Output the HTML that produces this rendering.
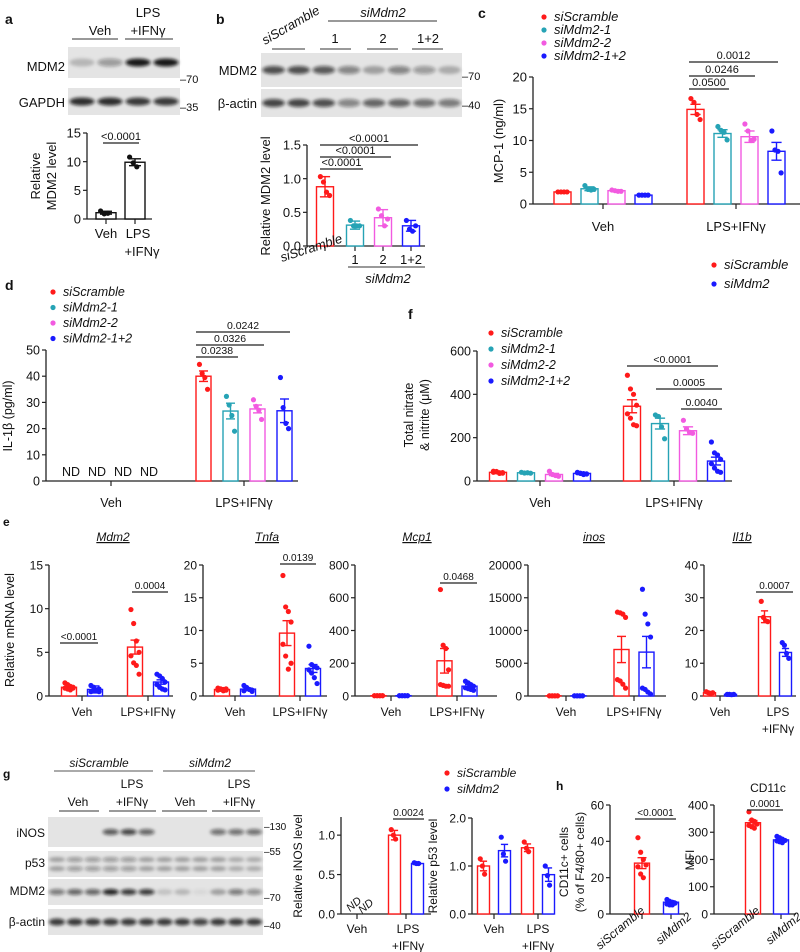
<!DOCTYPE html>
<html><head><meta charset="utf-8"><style>
html,body{margin:0;padding:0;background:#fff}
svg{display:block;font-family:"Liberation Sans",sans-serif}
</style></head><body>
<svg id="fig" width="800" height="952" viewBox="0 0 800 952" xmlns="http://www.w3.org/2000/svg">
<defs><filter id="blur" x="-50%" y="-50%" width="200%" height="200%"><feGaussianBlur stdDeviation="1.6"/></filter></defs>
</svg>
<script>
// ---------- data ----------
const aCats=["Veh","LPS+IFNγ"];
const aVals=[1.1,9.9];const aErr=[0.25,0.6];
const aPts=[[1.4,0.9,1.0],[10.8,9.8,9.1]];
const bCats=["siScramble","1","2","1+2"];
const bVals=[0.88,0.31,0.42,0.30];const bErr=[0.15,0.06,0.12,0.08];
const bPts=[[1.03,0.95,0.8,0.75],[0.38,0.3,0.3,0.3],[0.55,0.45,0.3,0.4],[0.38,0.25,0.22,0.3]];
const series4=["siScramble","siMdm2-1","siMdm2-2","siMdm2-1+2"];
const groups=["Veh","LPS+IFNγ"];
const cVeh=[1.9,2.4,2.1,1.4];const cLps=[14.9,11.1,10.6,8.3];
const cVehErr=[0.1,0.3,0.15,0.1];const cLpsErr=[0.8,0.6,0.9,1.4];
const cVehPts=[[1.9,1.9,1.9,1.9],[2.9,2.3,2.2,2.3],[2.2,2.1,2.0,2.0],[1.4,1.4,1.4,1.4]];
const cLpsPts=[[16.6,16.0,14.1,13.3],[12.2,11.6,11.3,10.1],[12.6,11.5,10.0,10.2],[11.5,8.5,8.3,4.9]];
const dLps=[40,26.7,27.5,26.8];const dErr=[2,3,1.5,4.5];
const dPts=[[44.5,41,39.5,35],[32.3,29,25,19],[31,28.5,27,23.5],[39.5,28,22,20]];
const fVeh=[40,38,30,35];const fLps=[345,265,232,92];
const fVehErr=[3,2,5,3];const fLpsErr=[30,25,18,18];
const fVehPts=[[45,42,38,36,40,44,35,39],[40,37,38,36],[45,30,25,22],[40,35,30,32,38,36,34,33]];
const fLpsPts=[[488,425,400,350,310,290,260,255],[305,298,250,195],[280,240,225,220],[180,130,120,100,80,60,45,40]];
const eGenes=["Mdm2","Tnfa","Mcp1","inos","Il1b"];
const eMdm2=[[1.0,0.75],[5.6,1.6]];const eMdm2Err=[[0.1,0.4],[0.8,0.25]];
const eMdm2Pts=[[[1.5,1.3,1.1,1,0.9,0.8,0.7,0.9],[1.2,1.0,0.6,0.5,0.5,0.6,0.7,0.8]],[[9.9,8.3,6.3,5.0,4.6,3.8,3.5,2.5],[2.5,2.3,2.0,1.6,1.3,1.0,0.8,0.7]]];
const eTnfa=[[1.0,1.05],[9.6,4.2]];const eTnfaErr=[[0.1,0.15],[1.9,0.6]];
const eTnfaPts=[[[1.2,1.1,1,0.9,0.9,1,0.8,1.1],[1.6,1.3,1,0.9,0.8,1.1,1,0.7]],[[18.4,13.6,12.9,11.3,7.9,6.1,4.1,5.0],[7.6,4.8,4.5,4.3,4.0,3.5,2.8,1.9]]];
const eMcp1=[[2,2],[215,60]];const eMcp1Err=[[0.5,0.5],[75,10]];
const eMcp1Pts=[[[2,2,2,2,2,2,2,2],[2,2,2,2,2,2,2,2]],[[650,310,290,160,70,65,60,60],[90,80,70,60,50,45,40,35]]];
const eInos=[[30,30],[7100,6700]];const eInosErr=[[20,20],[2000,2400]];
const eInosPts=[[[30,30,30,30,30,30,30,30],[30,30,30,30,30,30,30,30]],[[12800,12700,12500,12000,2500,2300,1800,1200],[16300,12500,11000,9000,1200,1000,600,300]]];
const eIl1b=[[1,0.5],[24.2,13.3]];const eIl1bErr=[[0.3,0.1],[1.8,1.2]];
const eIl1bPts=[[[1.3,1,0.8,1],[0.5,0.5,0.4,0.5]],[[28.9,24,23,22.7],[16.3,15.5,13,11.5]]];
const gInos=[[null,null],[1.0,0.64]];const gInosErr=[[0,0],[0.06,0.01]];
const gInosPts=[[[],[]],[[1.07,1.0,0.95],[0.65,0.64,0.64]]];
const gP53=[[1.0,1.32],[1.38,0.82]];const gP53Err=[[0.1,0.13],[0.08,0.14]];
const gP53Pts=[[[1.15,1.0,0.83],[1.6,1.25,1.1]],[[1.5,1.37,1.3],[1.0,0.8,0.6]]];
const hCats=["siScramble","siMdm2"];
const h1Vals=[28,6.5];const h1Err=[3,0.7];
const h1Pts=[[42,34,30,27,26,22,20],[8,7,6.5,6,5.5,5,5]];
const h2Vals=[335,272];const h2Err=[8,4];
const h2Pts=[[375,345,340,330,325,320,315],[285,280,275,270,268,265,262]];

// ---------- helpers ----------
const NS="http://www.w3.org/2000/svg";const svg=document.getElementById('fig');
const RED="#ff1a1a",TEAL="#26a3b5",MAG="#f25ae0",BLUE="#1a1aff";
const C4=[RED,TEAL,MAG,BLUE],C2=[RED,BLUE];
function mk(tag,at){const e=document.createElementNS(NS,tag);for(const k in at)e.setAttribute(k,at[k]);svg.appendChild(e);return e;}
function T(x,y,s,size,o,name){o=o||{};
 const e=mk('text',{x:x,y:y,'font-size':size,'text-anchor':o.a||'start',fill:o.fill||'#111'});
 if(o.i)e.setAttribute('font-style','italic');if(o.b)e.setAttribute('font-weight','bold');
 if(o.rot!==undefined)e.setAttribute('transform','rotate('+o.rot+' '+x+' '+y+')');
 if(o.u)e.setAttribute('text-decoration','underline');
 e.textContent=s;
 
 
 return e;}
function L(x1,y1,x2,y2,col,w,name){const e=mk('line',{x1:x1,y1:y1,x2:x2,y2:y2,stroke:col||'#222','stroke-width':w||1.2});
 
 
 return e;}
function sig(x1,x2,y,s,size){L(x1,y,x2,y,'#222',1.2,'significance-bar');T((x1+x2)/2,y-3,s,size||11,{a:'middle'},'p-value-label');}
function dotLegend(x,y,col,s,size,name){const c=mk('circle',{cx:x,cy:y-4,r:2.6,fill:col});
 
 
 T(x+10,y,s,size||13,{i:true},name||'legend-entry');}
// generic bar chart: vals[g][i]
function chart(c){
 const sy=v=>c.yBot-v/c.vmax*(c.yBot-c.yTop);
 L(c.ax,c.yTop,c.ax,c.yBot,'#222',1.3,c.name+'-y-axis');
 c.ticks.forEach((t,k)=>{L(c.ax-4,sy(t),c.ax,sy(t),'#222',1.2,'y-tick');
  T(c.ax-6,sy(t)+c.fs*0.36,c.tl?c.tl[k]:String(t),c.fs,{a:'end'},'y-tick-label');});
 L(c.ax,c.yBot,c.xEnd,c.yBot,'#222',1.3,c.name+'-x-axis');
 c.groupX.forEach(gx=>L(gx,c.yBot,gx,c.yBot+5,'#222',1.2,'x-tick'));
 c.vals.forEach((row,g)=>{const n=row.length;row.forEach((v,i)=>{
  if(v===null)return;const cx=c.groupX[g]+(i-(n-1)/2)*(c.sp||0);const col=c.col(g,i);
  const r=mk('rect',{x:cx-c.bw/2,y:sy(v),width:c.bw,height:c.yBot-sy(v),fill:'#fff',stroke:col,'stroke-width':1.4});
  
  
  const e=c.err[g][i];
  L(cx,sy(Math.max(0,v-e)),cx,sy(v+e),col,1.4,'error-bar');
  L(cx-c.bw*0.3,sy(v+e),cx+c.bw*0.3,sy(v+e),col,1.4,'error-cap');
  L(cx-c.bw*0.3,sy(Math.max(0,v-e)),cx+c.bw*0.3,sy(Math.max(0,v-e)),col,1.4,'error-cap');
  const P=c.pts[g][i]||[];P.forEach((p,k)=>{const j=((k%4)-1.5)*c.bw*0.18;
   const d=mk('circle',{cx:cx+j,cy:sy(p),r:c.r||2.6,fill:col});
   
   });
 });});
 return sy;}
function blot(x,y,w,h,lanes,ints,bandH,name,double){
 const r=mk('rect',{x:x,y:y,width:w,height:h,fill:'#e4e4e4'});
 
 
 const lw=w/lanes;
 ints.forEach((v,k)=>{if(v<=0)return;const cx=x+lw*(k+0.5);
  const ys=double?[y+h*0.33,y+h*0.68]:[y+h/2];
  ys.forEach(yy=>{const e=mk('ellipse',{cx:cx,cy:yy,rx:lw*0.45,ry:bandH,fill:'#111','fill-opacity':v,filter:'url(#blur)'});
   
   });});}

// ---------- panel a ----------
T(5,24,'a',14,{b:true},'panel-label-a');
T(100,35,'Veh',13,{a:'middle'},'lane-label');T(148,17,'LPS',13,{a:'middle'},'lane-label');T(148,35,'+IFNγ',13,{a:'middle'},'lane-label');
L(72,39,118,39,'#333',1);L(125,39,173,39,'#333',1);
blot(68,47,112,31,4,[0.2,0.35,0.95,0.95],4,'blot-a-mdm2');
blot(68,88,112,27,4,[0.85,0.85,0.8,0.8],4,'blot-a-gapdh');
T(65,71,'MDM2',13,{a:'end'},'blot-label');T(65,107,'GAPDH',13,{a:'end'},'blot-label');
T(180,83,'–70',11,{},'mw-marker');T(180,111,'–35',11,{},'mw-marker');
chart({name:'a',ax:87,yTop:133,yBot:219,vmax:15,ticks:[0,5,10,15],fs:13,xEnd:152,groupX:[106,135],bw:20,
 vals:aVals.map(v=>[v]),err:aErr.map(v=>[v]),pts:aPts.map(p=>[p]),col:()=>'#111'});
sig(103,139,143,'<0.0001',11);
T(40,176,'Relative',13,{a:'middle',rot:-90},'y-axis-title');T(56,176,'MDM2 level',13,{a:'middle',rot:-90},'y-axis-title');
T(106,238,'Veh',13,{a:'middle'},'x-label');T(138,238,'LPS',13,{a:'middle'},'x-label');T(142,256,'+IFNγ',13,{a:'middle'},'x-label');

// ---------- panel b ----------
T(216,24,'b',14,{b:true},'panel-label-b');
T(265,45,'siScramble',13,{i:true,rot:-30},'lane-group-label');
T(383,17,'siMdm2',13,{i:true,a:'middle'},'lane-group-label');L(328,21,437,21,'#333',1);
T(335,43,'1',13,{a:'middle'},'lane-label');T(383,43,'2',13,{a:'middle'},'lane-label');T(428,43,'1+2',13,{a:'middle'},'lane-label');
L(272,49,305,49,'#333',1);L(320,49,351,49,'#333',1);L(367,49,398,49,'#333',1);L(412,49,443,49,'#333',1);
blot(261,53,201,34,8,[0.7,0.7,0.65,0.45,0.3,0.45,0.35,0.25],4,'blot-b-mdm2');
blot(261,89,201,28,8,[0.75,0.75,0.7,0.45,0.6,0.6,0.55,0.5],4,'blot-b-actin');
T(257,75,'MDM2',13,{a:'end'},'blot-label');T(257,108,'β-actin',13,{a:'end'},'blot-label');
T(462,80,'–70',11,{},'mw-marker');T(462,109,'–40',11,{},'mw-marker');
chart({name:'b',ax:307,yTop:145,yBot:246,vmax:1.5,ticks:[0,0.5,1,1.5],tl:['0.0','0.5','1.0','1.5'],fs:13,xEnd:425,groupX:[325,355,383,411],bw:17,
 vals:bVals.map(v=>[v]),err:bErr.map(v=>[v]),pts:bPts.map(p=>[p]),col:(g)=>C4[g]});
sig(320,363,169,'<0.0001',11);sig(320,391,157,'<0.0001',11);sig(320,418,145,'<0.0001',11);
T(270,196,'Relative MDM2 level',13,{a:'middle',rot:-90},'y-axis-title');
T(282,262,'siScramble',13,{i:true,rot:-18},'x-label');
T(355,264,'1',13,{a:'middle'},'x-label');T(383,264,'2',13,{a:'middle'},'x-label');T(411,264,'1+2',13,{a:'middle'},'x-label');
L(348,267,425,267,'#333',1);T(388,283,'siMdm2',13,{i:true,a:'middle'},'x-group-label');

// ---------- panel c ----------
T(478,18,'c',14,{b:true},'panel-label-c');
series4.forEach((s,k)=>dotLegend(544,21+k*13,C4[k],s,13));
chart({name:'c',ax:533,yTop:77,yBot:204,vmax:20,ticks:[0,5,10,15,20],fs:13,xEnd:800,groupX:[603,736],sp:27,bw:17,
 vals:[cVeh,cLps],err:[cVehErr,cLpsErr],pts:[cVehPts,cLpsPts],col:(g,i)=>C4[i]});
sig(689,729,89,'0.0500',11);sig(689,755,76,'0.0246',11);sig(689,778,62,'0.0012',11);
T(503,141,'MCP-1 (ng/ml)',13,{a:'middle',rot:-90},'y-axis-title');
T(603,231,'Veh',13,{a:'middle'},'x-label');T(736,231,'LPS+IFNγ',13,{a:'middle'},'x-label');
dotLegend(714,269,RED,'siScramble',13,'legend-entry-siscramble');dotLegend(714,288,BLUE,'siMdm2',13,'legend-entry-simdm2');

// ---------- panel d ----------
T(5,290,'d',14,{b:true},'panel-label-d');
series4.forEach((s,k)=>dotLegend(53,296+k*15.5,C4[k],s,12.5));
chart({name:'d',ax:46,yTop:350,yBot:481,vmax:50,ticks:[0,10,20,30,40,50],fs:12.5,xEnd:298,groupX:[111,244],sp:27,bw:15,
 vals:[[null,null,null,null],dLps],err:[[0,0,0,0],dErr],pts:[[[],[],[],[]],dPts],col:(g,i)=>C4[i]});
['ND','ND','ND','ND'].forEach((s,k)=>T(71+k*26,476,s,12.5,{a:'middle'},'nd-label'));
sig(196,238,357,'0.0238',10.5);sig(196,264,345,'0.0326',10.5);sig(196,290,332,'0.0242',10.5);
T(12,416,'IL-1β (pg/ml)',12.5,{a:'middle',rot:-90},'y-axis-title');
T(111,507,'Veh',12.5,{a:'middle'},'x-label');T(244,507,'LPS+IFNγ',12.5,{a:'middle'},'x-label');

// ---------- panel f ----------
T(408,319,'f',14,{b:true},'panel-label-f');
series4.forEach((s,k)=>dotLegend(491,337+k*16,C4[k],s,12.5));
chart({name:'f',ax:477,yTop:351,yBot:481,vmax:600,ticks:[0,200,400,600],fs:12.5,xEnd:732,groupX:[540,674],sp:28,bw:17,
 vals:[fVeh,fLps],err:[fVehErr,fLpsErr],pts:[fVehPts,fLpsPts],col:(g,i)=>C4[i]});
sig(627,718,366,'<0.0001',10.5);sig(656,722,389,'0.0005',10.5);sig(681,722,409,'0.0040',10.5);
T(413,415,'Total nitrate',12.5,{a:'middle',rot:-90},'y-axis-title');T(429,415,'& nitrite (μM)',12.5,{a:'middle',rot:-90},'y-axis-title');
T(540,507,'Veh',12.5,{a:'middle'},'x-label');T(674,507,'LPS+IFNγ',12.5,{a:'middle'},'x-label');

// ---------- panel e ----------
T(3,526,'e',12,{b:true},'panel-label-e');
const eCfg=[
 {ax:49,xEnd:173,gx:[82,148],vmax:15,ticks:[0,5,10,15],v:eMdm2,e:eMdm2Err,p:eMdm2Pts,tx:113,sp:26,bw:15},
 {ax:203,xEnd:327,gx:[235,300],vmax:20,ticks:[0,5,10,15,20],v:eTnfa,e:eTnfaErr,p:eTnfaPts,tx:267,sp:26,bw:15},
 {ax:355,xEnd:497,gx:[391,457],vmax:800,ticks:[0,200,400,600,800],v:eMcp1,e:eMcp1Err,p:eMcp1Pts,tx:417,sp:25,bw:15},
 {ax:528,xEnd:666,gx:[566,634],vmax:20000,ticks:[0,5000,10000,15000,20000],v:eInos,e:eInosErr,p:eInosPts,tx:594,sp:25,bw:15},
 {ax:704,xEnd:796,gx:[720,775],vmax:40,ticks:[0,10,20,30,40],v:eIl1b,e:eIl1bErr,p:eIl1bPts,tx:742,sp:21,bw:12}];
eCfg.forEach((q,k)=>{
 chart({name:'e-'+eGenes[k],ax:q.ax,yTop:565,yBot:696,vmax:q.vmax,ticks:q.ticks,fs:12,xEnd:q.xEnd,groupX:q.gx,sp:q.sp,bw:q.bw,
  vals:q.v,err:q.e,pts:q.p,col:(g,i)=>C2[i]});
 T(q.tx,541,eGenes[k],12,{a:'middle',i:true,u:true},'gene-title');
 T(q.gx[0],716,'Veh',12,{a:'middle'},'x-label');
 if(k<4)T(q.gx[1],716,'LPS+IFNγ',12,{a:'middle'},'x-label');
 else{T(q.gx[1]+3,716,'LPS',12,{a:'middle'},'x-label');T(q.gx[1]+3,733,'+IFNγ',12,{a:'middle'},'x-label');}
});
sig(60,98,643,'<0.0001',10);sig(132,168,592,'0.0004',10);sig(280,316,564,'0.0139',10);sig(440,477,583,'0.0468',10);sig(756,793,592,'0.0007',10);
T(14,630,'Relative mRNA level',12.5,{a:'middle',rot:-90},'y-axis-title');

// ---------- panel g ----------
T(3,778,'g',12,{b:true},'panel-label-g');
T(99,767,'siScramble',12,{a:'middle',i:true},'lane-group-label');L(54,771,153,771,'#777',1.3);
T(210,767,'siMdm2',12,{a:'middle',i:true},'lane-group-label');L(163,771,255,771,'#777',1.3);
T(78,806,'Veh',12,{a:'middle'},'lane-label');T(132,788,'LPS',12,{a:'middle'},'lane-label');T(132,806,'+IFNγ',12,{a:'middle'},'lane-label');
T(185,806,'Veh',12,{a:'middle'},'lane-label');T(239,788,'LPS',12,{a:'middle'},'lane-label');T(239,806,'+IFNγ',12,{a:'middle'},'lane-label');
L(59,811,99,811,'#333',1);L(109,811,156,811,'#333',1);L(162,811,207,811,'#333',1);L(212,811,260,811,'#333',1);
blot(48,817,215,30,12,[0,0,0,.65,.75,.6,0,0,0,.55,.55,.55],3,'blot-g-inos');
blot(48,851,215,26,12,[.3,.35,.35,.35,.35,.3,.3,.3,.3,.3,.25,.25],2.5,'blot-g-p53',true);
blot(48,879,215,26,12,[.5,.6,.6,.9,.8,.8,.15,.2,.05,.3,.5,.4],3,'blot-g-mdm2');
blot(48,909,215,26,12,[.8,.8,.8,.8,.8,.8,.8,.8,.75,.8,.8,.8],3.5,'blot-g-actin');
T(45,837,'iNOS',12,{a:'end'},'blot-label');T(45,867,'p53',12,{a:'end'},'blot-label');T(45,895,'MDM2',12,{a:'end'},'blot-label');T(45,926,'β-actin',12,{a:'end'},'blot-label');
T(264,830,'–130',10,{},'mw-marker');T(264,855,'–55',10,{},'mw-marker');T(264,901,'–70',10,{},'mw-marker');T(264,929,'–40',10,{},'mw-marker');
chart({name:'g-inos',ax:341,yTop:817,yBot:914,vmax:1.23,ticks:[0,0.5,1],tl:['0.0','0.5','1.0'],fs:12,xEnd:431,groupX:[357,406],sp:23,bw:12,
 vals:gInos,err:gInosErr,pts:gInosPts,col:(g,i)=>C2[i]});
T(350,912,'ND',11,{i:true,rot:-40},'nd-label');T(362,914,'ND',11,{i:true,rot:-40},'nd-label');
sig(393,424,819,'0.0024',10);
T(302,866,'Relative iNOS level',12,{a:'middle',rot:-90},'y-axis-title');
T(357,933,'Veh',12,{a:'middle'},'x-label');T(408,933,'LPS',12,{a:'middle'},'x-label');T(408,950,'+IFNγ',12,{a:'middle'},'x-label');
chart({name:'g-p53',ax:472,yTop:818,yBot:914,vmax:2,ticks:[0,1,2],tl:['0.0','1.0','2.0'],fs:12,xEnd:554,groupX:[494,538],sp:21,bw:12,
 vals:gP53,err:gP53Err,pts:gP53Pts,col:(g,i)=>C2[i]});
T(437,866,'Relative p53 level',12,{a:'middle',rot:-90},'y-axis-title');
T(494,933,'Veh',12,{a:'middle'},'x-label');T(538,933,'LPS',12,{a:'middle'},'x-label');T(538,950,'+IFNγ',12,{a:'middle'},'x-label');
dotLegend(447,777,RED,'siScramble',12,'legend-entry-siscramble');dotLegend(447,793,BLUE,'siMdm2',12,'legend-entry-simdm2');

// ---------- panel h ----------
T(556,790,'h',12,{b:true},'panel-label-h');
chart({name:'h-cd11c-pct',ax:610,yTop:805,yBot:914,vmax:60,ticks:[0,20,40,60],fs:12,xEnd:684,groupX:[642,671],bw:15,
 vals:h1Vals.map(v=>[v]),err:h1Err.map(v=>[v]),pts:h1Pts.map(p=>[p]),col:(g)=>C2[g]});
sig(635,676,819,'<0.0001',10);
T(568,862,'CD11c+ cells',12,{a:'middle',rot:-90},'y-axis-title');T(584,862,'(% of F4/80+ cells)',12,{a:'middle',rot:-90},'y-axis-title');
T(600,950,'siScramble',12,{i:true,rot:-40},'x-label');T(660,945,'siMdm2',12,{i:true,rot:-40},'x-label');
chart({name:'h-cd11c-mfi',ax:714,yTop:805,yBot:914,vmax:400,ticks:[0,100,200,300,400],fs:12,xEnd:796,groupX:[753,781],bw:15,
 vals:h2Vals.map(v=>[v]),err:h2Err.map(v=>[v]),pts:h2Pts.map(p=>[p]),col:(g)=>C2[g]});
T(768,792,'CD11c',12,{a:'middle'},'chart-title');
sig(747,783,810,'0.0001',10);
T(694,860,'MFI',12,{a:'middle',rot:-90},'y-axis-title');
T(715,950,'siScramble',12,{i:true,rot:-40},'x-label');T(770,945,'siMdm2',12,{i:true,rot:-40},'x-label');
</script>
</body></html>
